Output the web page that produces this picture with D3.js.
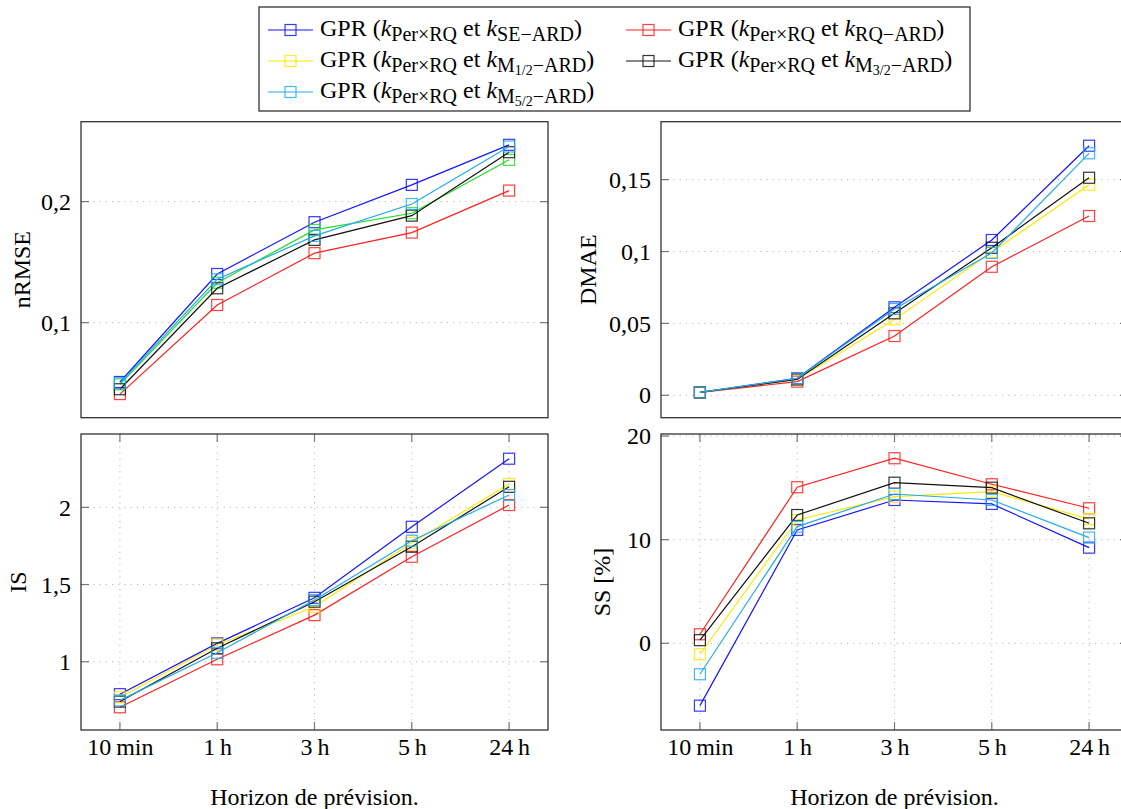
<!DOCTYPE html>
<html><head><meta charset="utf-8">
<script src="https://cdn.jsdelivr.net/npm/d3@7"></script>
<style>body{margin:0}</style></head>
<body>
<svg id="chart" width="1121" height="809"></svg>
<script>
// ---------- DATA ----------
const categories = ["10\u2009min", "1\u2009h", "3\u2009h", "5\u2009h", "24\u2009h"];
const seriesKeys = ["SE", "RQ", "M12", "M32", "M52"];

const nrmseSE  = [0.051, 0.1402, 0.1830, 0.2138, 0.2469];
const nrmseRQ  = [0.041, 0.1146, 0.1574, 0.1744, 0.2091];
const nrmseM12 = [0.049, 0.1330, 0.1766, 0.1904, 0.2345];
const nrmseM32 = [0.045, 0.1284, 0.1684, 0.1884, 0.2408];
const nrmseM52 = [0.050, 0.1358, 0.1717, 0.1980, 0.2455];

const dmaeSE  = [0.002, 0.0118, 0.0612, 0.1080, 0.1736];
const dmaeRQ  = [0.002, 0.0095, 0.0412, 0.0894, 0.1247];
const dmaeM12 = [0.002, 0.0110, 0.0528, 0.0995, 0.1465];
const dmaeM32 = [0.002, 0.0110, 0.0570, 0.1026, 0.1513];
const dmaeM52 = [0.002, 0.0118, 0.0600, 0.0990, 0.1683];

const isSE  = [0.790, 1.119, 1.414, 1.874, 2.315];
const isRQ  = [0.705, 1.016, 1.302, 1.680, 2.015];
const isM12 = [0.770, 1.110, 1.356, 1.770, 2.151];
const isM32 = [0.742, 1.087, 1.389, 1.745, 2.133];
const isM52 = [0.750, 1.058, 1.400, 1.784, 2.080];

const ssSE  = [-6.02, 10.94, 13.83, 13.45, 9.23];
const ssRQ  = [0.87, 15.06, 17.86, 15.35, 13.03];
const ssM12 = [-1.06, 11.90, 14.15, 14.63, 12.00];
const ssM32 = [0.30, 12.38, 15.50, 15.02, 11.58];
const ssM52 = [-2.99, 11.26, 14.41, 13.83, 10.20];

const nrmseTicks = [0.1, 0.2];
const nrmseTickLabels = ["0,1", "0,2"];
const dmaeTicks = [0, 0.05, 0.1, 0.15];
const dmaeTickLabels = ["0", "0,05", "0,1", "0,15"];
const isTicks = [1, 1.5, 2];
const isTickLabels = ["1", "1,5", "2"];
const ssTicks = [0, 10, 20];
const ssTickLabels = ["0", "10", "20"];

const colors = {SE: "#1515ff", RQ: "#ff2020", M12: "#ffe800", M32: "#111111", M52: "#22aaee"};
const nrmseM12Color = "#22dd22";

// ---------- LAYOUT ----------
const FONT = '"Liberation Serif", serif';
const svg = d3.select("#chart");
const W = 467, H = 296;
const FS = 24;
const tickLen = 8;

function txt(sel, size) {
  return sel.attr("font-family", "Liberation Serif").style("font-family", FONT)
    .attr("font-size", size).attr("fill", "#000");
}

const panels = [
  {x: 81,  y: 121.7, ylab: "nRMSE", dom: [0.0215, 0.266], ticks: nrmseTicks, tl: nrmseTickLabels,
   data: {SE: nrmseSE, RQ: nrmseRQ, M12: nrmseM12, M32: nrmseM32, M52: nrmseM52}, xgrid: false, xlabels: false, labx: 30, m12: nrmseM12Color},
  {x: 661, y: 121.7, ylab: "DMAE", dom: [-0.0156, 0.1903], ticks: dmaeTicks, tl: dmaeTickLabels,
   data: {SE: dmaeSE, RQ: dmaeRQ, M12: dmaeM12, M32: dmaeM32, M52: dmaeM52}, xgrid: false, xlabels: false, labx: 596},
  {x: 81,  y: 434, ylab: "IS", dom: [0.558, 2.475], ticks: isTicks, tl: isTickLabels,
   data: {SE: isSE, RQ: isRQ, M12: isM12, M32: isM32, M52: isM52}, xgrid: true, xlabels: true, labx: 26},
  {x: 661, y: 434, ylab: "SS [%]", dom: [-8.37, 20.2], ticks: ssTicks, tl: ssTickLabels,
   data: {SE: ssSE, RQ: ssRQ, M12: ssM12, M32: ssM32, M52: ssM52}, xgrid: true, xlabels: true, labx: 610}
];

panels.forEach(p => {
  const g = svg.append("g").attr("transform", `translate(${p.x},${p.y})`);
  const x = d3.scaleLinear().domain([-0.4, categories.length - 1 + 0.4]).range([0, W]);
  const y = d3.scaleLinear().domain(p.dom).range([H, 0]);

  g.append("g").selectAll("line").data(p.ticks).join("line")
    .attr("x1", 0).attr("x2", W).attr("y1", d => y(d)).attr("y2", d => y(d))
    .attr("stroke", "#b8b8b8").attr("stroke-width", 1).attr("stroke-dasharray", "1.2,5");
  if (p.xgrid) {
    g.append("g").selectAll("line").data(categories.map((c, i) => i)).join("line")
      .attr("y1", 0).attr("y2", H).attr("x1", d => x(d)).attr("x2", d => x(d))
      .attr("stroke", "#b8b8b8").attr("stroke-width", 1).attr("stroke-dasharray", "1.2,5");
  }
  const yt = g.append("g");
  p.ticks.forEach(t => {
    yt.append("line").attr("x1", 0).attr("x2", tickLen).attr("y1", y(t)).attr("y2", y(t)).attr("stroke", "#777").attr("stroke-width", 1.2);
    yt.append("line").attr("x1", W - tickLen).attr("x2", W).attr("y1", y(t)).attr("y2", y(t)).attr("stroke", "#777").attr("stroke-width", 1.2);
  });
  const yAxis = d3.axisLeft(y).tickValues(p.ticks).tickFormat((d, i) => p.tl[i]).tickSize(0).tickPadding(10);
  const ya = g.append("g").call(yAxis);
  txt(ya, FS);
  ya.select(".domain").remove();
  txt(ya.selectAll("text"), FS);

  if (p.xgrid) {
    categories.forEach((c, i) => {
      g.append("line").attr("x1", x(i)).attr("x2", x(i)).attr("y1", H).attr("y2", H - tickLen).attr("stroke", "#777").attr("stroke-width", 1.2);
      g.append("line").attr("x1", x(i)).attr("x2", x(i)).attr("y1", 0).attr("y2", tickLen).attr("stroke", "#777").attr("stroke-width", 1.2);
    });
  }
  if (p.xlabels) {
    const xAxis = d3.axisBottom(x).tickValues(categories.map((c, i) => i)).tickFormat(i => categories[i]).tickSize(0).tickPadding(8);
    const xa = g.append("g").attr("transform", `translate(0,${H})`).call(xAxis);
    txt(xa, FS);
    xa.select(".domain").remove();
    txt(xa.selectAll("text"), FS);
    txt(svg.append("text").attr("x", p.x + W / 2).attr("y", 805).attr("text-anchor", "middle"), FS)
      .text("Horizon de prévision.");
  }

  g.append("rect").attr("x", 0).attr("y", 0).attr("width", W).attr("height", H)
    .attr("fill", "none").attr("stroke", "#333").attr("stroke-width", 1.3);

  const line = d3.line().x((d, i) => x(i)).y(d => y(d));
  seriesKeys.forEach(k => {
    const col = (k === "M12" && p.m12) ? p.m12 : colors[k];
    const vals = p.data[k];
    g.append("path").datum(vals).attr("d", line).attr("fill", "none").attr("stroke", col).attr("stroke-width", 1.2);
    g.append("g").selectAll("rect").data(vals).join("rect")
      .attr("x", (d, i) => x(i) - 5.5).attr("y", d => y(d) - 5.5).attr("width", 11).attr("height", 11)
      .attr("fill", "none").attr("stroke", col).attr("stroke-width", 1.2).attr("opacity", 0.85);
  });

  txt(svg.append("text").attr("transform", `translate(${p.labx},${p.y + H / 2}) rotate(-90)`)
    .attr("text-anchor", "middle"), FS).text(p.ylab);
});

// ---------- LEGEND ----------
const legend = svg.append("g");
legend.append("rect").attr("x", 259).attr("y", 7).attr("width", 711).attr("height", 104)
  .attr("fill", "#fff").attr("stroke", "#222").attr("stroke-width", 1.2);

const legendSubs = {SE: ["SE\u2212ARD"], RQ: ["RQ\u2212ARD"], M12: ["M", "1/2", "\u2212ARD"], M32: ["M", "3/2", "\u2212ARD"], M52: ["M", "5/2", "\u2212ARD"]};
const legendPos = {SE: [0, 0], RQ: [1, 0], M12: [0, 1], M32: [1, 1], M52: [0, 2]};
const colX = [268, 626];
const rowY = [30, 61, 92];
const SUB = 20, SUBSUB = 14;

seriesKeys.forEach(k => {
  const [c, r] = legendPos[k];
  const lx = colX[c], ly = rowY[r];
  legend.append("line").attr("x1", lx).attr("x2", lx + 45).attr("y1", ly).attr("y2", ly).attr("stroke", colors[k]).attr("stroke-width", 1.2);
  legend.append("rect").attr("x", lx + 22.5 - 5.5).attr("y", ly - 5.5).attr("width", 11).attr("height", 11)
    .attr("fill", "none").attr("stroke", colors[k]).attr("stroke-width", 1.2).attr("opacity", 0.85);
  const t = txt(legend.append("text").attr("x", lx + 52).attr("y", ly + 6), FS);
  t.append("tspan").text("GPR (");
  t.append("tspan").attr("font-style", "italic").text("k");
  t.append("tspan").attr("font-size", SUB).attr("dy", 5).text("Per\u00d7RQ");
  t.append("tspan").attr("dy", -5).text(" et ");
  t.append("tspan").attr("font-style", "italic").text("k");
  const s = legendSubs[k];
  t.append("tspan").attr("font-size", SUB).attr("dy", 5).text(s[0]);
  if (s.length > 1) {
    t.append("tspan").attr("font-size", SUBSUB).attr("dy", 3).text(s[1]);
    t.append("tspan").attr("font-size", SUB).attr("dy", -3).text(s[2]);
  }
  t.append("tspan").attr("dy", -5).text(")");
});
</script>
</body></html>
